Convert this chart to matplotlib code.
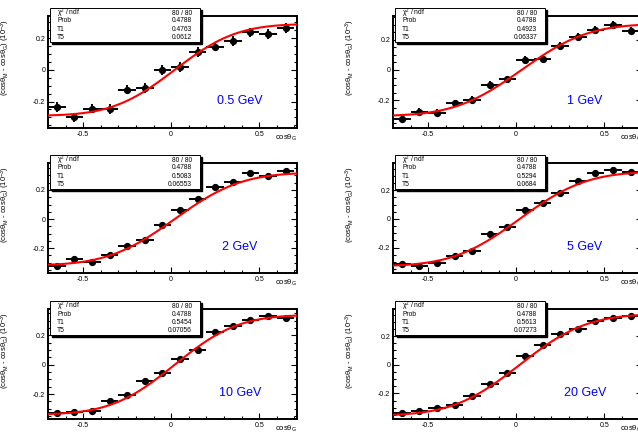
import math

import matplotlib
matplotlib.use('Agg')
import matplotlib.pyplot as plt
import numpy as np
from matplotlib.patches import Rectangle
from matplotlib.ticker import MultipleLocator

plt.rcParams['font.family'] = ['Liberation Sans', 'DejaVu Sans']
plt.rcParams['mathtext.fontset'] = 'custom'
plt.rcParams['mathtext.rm'] = 'Liberation Sans'
plt.rcParams['mathtext.it'] = 'Liberation Sans:italic'
plt.rcParams['mathtext.default'] = 'regular'

# bin centres of cos(theta_G), 14 bins of width 0.1
bin_centers = [-0.65, -0.55, -0.45, -0.35, -0.25, -0.15, -0.05,
               0.05, 0.15, 0.25, 0.35, 0.45, 0.55, 0.65]
bin_half_width = 0.05

energies = ['0.5 GeV', '1 GeV', '2 GeV', '5 GeV', '10 GeV', '20 GeV']

y_05 = [-0.236, -0.300, -0.244, -0.248, -0.124, -0.114, 0.000,
        0.019, 0.114, 0.147, 0.183, 0.236, 0.225, 0.263]
y_1 = [-0.325, -0.278, -0.282, -0.221, -0.197, -0.099, -0.063,
       0.068, 0.075, 0.160, 0.217, 0.264, 0.300, 0.260]
y_2 = [-0.324, -0.278, -0.294, -0.246, -0.184, -0.143, -0.039,
       0.062, 0.138, 0.218, 0.253, 0.320, 0.299, 0.333]
y_5 = [-0.314, -0.328, -0.309, -0.260, -0.226, -0.102, -0.053,
       0.060, 0.109, 0.181, 0.267, 0.319, 0.344, 0.326]
y_10 = [-0.327, -0.325, -0.314, -0.245, -0.205, -0.109, -0.055,
        0.041, 0.098, 0.220, 0.266, 0.307, 0.334, 0.318]
y_20 = [-0.335, -0.321, -0.302, -0.279, -0.216, -0.133, -0.056,
        0.063, 0.137, 0.216, 0.253, 0.309, 0.328, 0.344]
all_y = [y_05, y_1, y_2, y_5, y_10, y_20]
y_err = [0.03, 0.025, 0.015, 0.015, 0.012, 0.012]

# fit parameters shown in the stat boxes
chi2_ndf = '80 / 80'
prob = '0.4788'
t1 = ['0.4763', '0.4923', '0.5083', '0.5294', '0.5454', '0.5613']
t5 = ['0.0612', '0.06337', '0.06553', '0.0684', '0.07056', '0.07273']

# shape of the drawn fit curve: amp * erf((x - x0) / width)
fit_amp = [0.29, 0.305, 0.32, 0.33, 0.34, 0.355]
fit_x0 = [0.02, 0.03, 0.02, 0.02, 0.02, 0.02]
fit_width = [0.39, 0.42, 0.42, 0.42, 0.40, 0.42]

y_limits = [(-0.367, 0.340), (-0.384, 0.357), (-0.372, 0.386),
            (-0.377, 0.390), (-0.370, 0.380), (-0.379, 0.390)]

W, H = 638, 433
fig = plt.figure(figsize=(W / 100, H / 100), dpi=100)

col_left = [48, 393]
row_top = [16, 163, 309]
ax_w = 249
ax_h = [112, 110, 110]

erf = np.vectorize(math.erf)


def fmt_tick(v, p):
    return '0' if abs(v) < 1e-9 else f'{v:g}'


for i in range(6):
    r, c = divmod(i, 2)
    left, top, h = col_left[c], row_top[r], ax_h[r]
    ax = fig.add_axes([left / W, 1 - (top + h) / H, ax_w / W, h / H])

    ax.errorbar(bin_centers, all_y[i], xerr=bin_half_width, yerr=y_err[i],
                fmt='o', color='black', ms=4.2, elinewidth=1.4, capsize=0,
                zorder=3)
    xs = np.linspace(-0.7, 0.72, 200)
    ax.plot(xs, fit_amp[i] * erf((xs - fit_x0[i]) / fit_width[i]),
            color='#ff0000', lw=1.5, zorder=4)

    ax.set_xlim(-0.7, 0.715)
    ax.set_ylim(*y_limits[i])
    ax.xaxis.set_major_locator(MultipleLocator(0.5))
    ax.xaxis.set_minor_locator(MultipleLocator(0.1))
    ax.yaxis.set_major_locator(MultipleLocator(0.2))
    ax.yaxis.set_minor_locator(MultipleLocator(0.05))
    ax.tick_params(which='both', direction='in', right=True, labelsize=5,
                   pad=2, width=0.8)
    ax.tick_params(which='major', length=4)
    ax.tick_params(which='minor', length=2)
    ax.xaxis.set_major_formatter(plt.FuncFormatter(fmt_tick))
    ax.yaxis.set_major_formatter(plt.FuncFormatter(fmt_tick))
    for s in ax.spines.values():
        s.set_linewidth(1.4)

    ax.set_ylabel('(cosθ$_{M}$ - cosθ$_{G}$) (10$^{-3}$)', fontsize=5.5,
                  loc='top')
    ax.yaxis.set_label_coords(-36 / ax_w, 1 - 3 / h)
    ax.set_xlabel('cosθ$_{G}$', fontsize=5.5, loc='right')
    ax.xaxis.set_label_coords(1.0, -5 / h)

    ax.text(0.77, 0.24, energies[i], transform=ax.transAxes, color='#0000ff',
            fontsize=9, ha='center', va='center')

    # stat box
    bx0, bx1 = 2 / ax_w, 152 / ax_w
    by1, by0 = 1 + 8 / h, 1 - 26 / h
    ax.add_patch(Rectangle((bx0 + 2 / ax_w, by0 - 2 / h), bx1 - bx0, by1 - by0,
                           transform=ax.transAxes, facecolor='black',
                           edgecolor='black', clip_on=False, zorder=5))
    ax.add_patch(Rectangle((bx0, by0), bx1 - bx0, by1 - by0,
                           transform=ax.transAxes, facecolor='white',
                           edgecolor='black', lw=0.7, clip_on=False, zorder=6))
    rows = [('χ$^{2}$ / ndf', chi2_ndf), ('Prob', prob),
            ('T1', t1[i]), ('T5', t5[i])]
    offs = [5.6, 13.0, 21.8, 29.6]
    for (lab, val), o in zip(rows, offs):
        yy = by1 - o / h
        ax.text(bx0 + 7 / ax_w, yy, lab, transform=ax.transAxes, fontsize=4.8,
                ha='left', va='center', zorder=7)
        ax.text(bx1 - 8 / ax_w, yy, val, transform=ax.transAxes, fontsize=4.8,
                ha='right', va='center', zorder=7)

fig.savefig('out.png', dpi=100)
